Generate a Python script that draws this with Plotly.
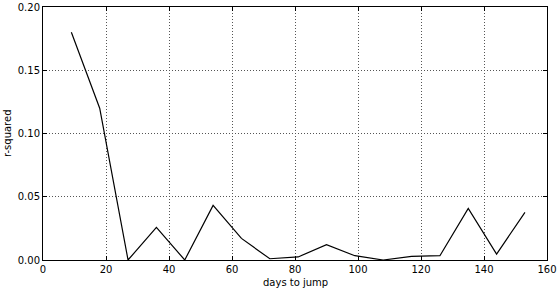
import plotly.graph_objects as go

days = [9, 18, 27, 36, 45, 54, 63, 72, 81, 90, 99, 108, 117, 126, 135, 144, 153]
r_squared = [0.180, 0.120, 0.0, 0.0258, 0.0, 0.0432, 0.0171, 0.001, 0.0024, 0.0121,
             0.0034, 0.0, 0.0029, 0.0034, 0.0408, 0.0047, 0.0377]
x_ticks = [0, 20, 40, 60, 80, 100, 120, 140, 160]
y_ticks = [0.0, 0.05, 0.10, 0.15, 0.20]

fig = go.Figure()
fig.add_trace(go.Scatter(x=days, y=r_squared, mode="lines",
                         line=dict(color="black", width=1.2), showlegend=False))

axis_style = dict(
    showline=True, linecolor="black", linewidth=1, mirror="allticks",
    ticks="inside", ticklen=4, tickcolor="black",
    showgrid=True, gridcolor="#555555", griddash="1px,2px", gridwidth=0.7,
    zeroline=False, tickfont=dict(size=10, color="black"), automargin=False,
)
fig.update_xaxes(range=[0, 160], tickvals=x_ticks, ticktext=[str(v) for v in x_ticks],
                 **axis_style)
fig.update_yaxes(range=[0, 0.20], tickvals=y_ticks, ticktext=[f"{v:.2f}" for v in y_ticks],
                 **axis_style)

# axis titles placed as annotations to keep the plot box fixed
fig.add_annotation(text="days to jump", xref="paper", yref="paper", x=0.5, y=0,
                   yshift=-15, yanchor="top", showarrow=False,
                   font=dict(size=10, color="black"))
fig.add_annotation(text="r-squared", xref="paper", yref="paper", x=0, y=0.5,
                   xshift=-28, xanchor="right", textangle=-90, showarrow=False,
                   font=dict(size=10, color="black"))

fig.update_layout(
    width=558, height=289,
    margin=dict(l=43, r=11, t=7, b=29),
    plot_bgcolor="white", paper_bgcolor="white",
    font=dict(family="DejaVu Sans", color="black"),
)
fig.write_html("out.html", config={"displayModeBar": False},
               post_script="document.body.style.margin='0';")
